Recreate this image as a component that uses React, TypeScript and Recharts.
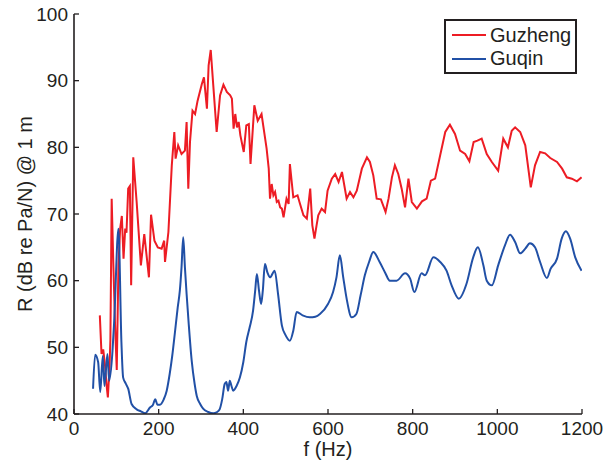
import { LineChart, Line, XAxis, YAxis, Legend, Label } from "recharts"

const guzhengF = [61, 65, 69, 73, 77, 80, 84, 86, 89, 93, 97, 101, 105, 109, 113, 117, 121, 124, 128, 132, 135, 140, 148, 158, 166, 177, 182, 190, 198, 207, 213, 215, 223, 231, 237, 240, 246, 254, 262, 266, 270, 274, 280, 286, 292, 302, 307, 314, 318, 323, 329, 337, 345, 353, 361, 369, 373, 377, 381, 385, 389, 393, 401, 407, 413, 417, 426, 434, 443, 455, 460, 463, 467, 471, 475, 479, 483, 487, 491, 495, 502, 507, 510, 518, 528, 534, 542, 550, 558, 563, 568, 573, 577, 585, 593, 599, 609, 617, 625, 633, 644, 652, 660, 668, 680, 692, 699, 707, 715, 725, 736, 743, 751, 758, 766, 774, 782, 790, 798, 810, 822, 833, 843, 853, 865, 877, 888, 900, 912, 924, 934, 944, 953, 963, 975, 987, 1002, 1014, 1025, 1034, 1042, 1054, 1066, 1079, 1089, 1101, 1113, 1125, 1141, 1153, 1164, 1176, 1188, 1199]
const guzhengR = [54.8, 49, 49.7, 47.5, 44.3, 42.5, 47.2, 51.2, 72.3, 62.3, 53.3, 46.6, 62.3, 67.8, 69.7, 63.3, 67.8, 67.2, 73.8, 74.2, 59.3, 78.5, 71.8, 62.3, 67, 60.5, 69.9, 66, 65, 64.8, 66, 62.8, 67.3, 77.3, 82.3, 78.3, 80.3, 79, 79.5, 83.8, 73.8, 80.8, 85.5, 85, 87, 89.5, 90.5, 85.8, 92.3, 94.6, 89.3, 82.3, 87.8, 89.4, 88.3, 87.8, 87.3, 82.8, 85, 83, 83.8, 81.8, 79.3, 83.3, 83.5, 77.5, 86.3, 84, 85, 79.8, 76.8, 72.3, 74.5, 72.8, 73.3, 71.8, 72, 71, 70.8, 69.5, 72.3, 71.5, 77.5, 72.5, 72.8, 71.5, 69.8, 69.3, 73.8, 68.3, 66.3, 68.3, 69.8, 70.8, 70.3, 73.5, 75.3, 76, 74.8, 76.3, 72.3, 73.3, 72.5, 73.5, 76.8, 78.5, 77.8, 75.8, 72.3, 72.2, 70.3, 72.3, 75.5, 77.3, 76, 73.8, 71, 75.3, 71.8, 70.8, 71.9, 72.3, 75, 75.3, 78.8, 82.3, 83.4, 82, 79.5, 79, 77.9, 80.8, 81, 81.3, 79, 77.8, 76.5, 81.3, 80, 82.5, 83, 82.3, 80.3, 74, 77.3, 79.3, 79.1, 78.4, 77.8, 76.8, 75.5, 75.3, 74.9, 75.5]

const guqinF = [45, 50, 57, 62, 68, 72, 79, 83, 91, 95, 105, 112, 116, 122, 128, 136, 148, 158, 168, 180, 186, 192, 197, 203, 212, 219, 226, 232, 238, 245, 250, 254, 258, 262, 266, 271, 278, 285, 290, 298, 305, 317, 329, 338, 344, 350, 356, 360, 364, 368, 372, 376, 384, 392, 400, 407, 415, 423, 428, 432, 437, 442, 446, 451, 457, 463, 474, 482, 491, 500, 510, 518, 526, 540, 557, 570, 581, 600, 612, 620, 628, 636, 644, 656, 667, 677, 687, 697, 707, 722, 735, 746, 762, 782, 794, 804, 821, 829, 849, 865, 880, 892, 909, 927, 943, 954, 967, 975, 987, 1002, 1018, 1030, 1042, 1054, 1066, 1077, 1089, 1101, 1117, 1126, 1141, 1152, 1162, 1172, 1184, 1199]
const guqinR = [43.8, 48.9, 47.8, 43.3, 48.7, 44.2, 49, 45, 49.5, 54, 67.8, 50.8, 45.5, 44.6, 43.8, 41.5, 40.7, 40.4, 40.1, 41, 41.3, 42.2, 41.4, 41.4, 42.2, 43.5, 46, 48.7, 52, 56, 58.5, 62, 66.5, 62, 58, 53.5, 48, 44.5, 42.7, 41.5, 40.8, 40.3, 40.1, 40.3, 40.7, 42.2, 44.5, 44.8, 43.5, 45, 44.2, 43.5, 44.2, 45.5, 47.8, 50.8, 53, 55.5, 58.5, 61, 58.5, 56.5, 58.5, 62.5, 61.2, 60.5, 61.5, 58, 53.3, 51.8, 51, 52.5, 55.3, 54.8, 54.5, 54.6, 55, 56.5, 58.3, 60.5, 63.8, 60.5, 57.3, 54.5, 55, 57.8, 60.8, 62.8, 64.3, 62.8, 61.2, 60, 60, 61.1, 60.3, 58.3, 61.1, 60.8, 63.5, 62.8, 61.5, 59.3, 57.3, 59.5, 63.5, 65, 62.3, 60, 59.3, 62.3, 65.3, 66.9, 65.8, 64.1, 64.8, 65.6, 65, 62.8, 60.4, 61.8, 63.3, 66.3, 67.4, 66.3, 63.5, 61.5]

const xTicks = [0, 200, 400, 600, 800, 1000, 1200]
const yTicks = [40, 50, 60, 70, 80, 90, 100]

const RED = "#ed1c24"
const BLUE = "#2150a6"
const INK = "#231f20"
const FONT = "'Liberation Sans', Arial, sans-serif"

const guzheng = guzhengF.map((f, i) => ({ f, r: guzhengR[i] }))
const guqin = guqinF.map((f, i) => ({ f, r: guqinR[i] }))

function LegendBox() {
  const items = [{ name: "Guzheng", color: RED }, { name: "Guqin", color: BLUE }]
  return (
    <div style={{ width: 129, height: 51, border: `2px solid ${INK}`, background: "#fff", fontFamily: FONT, fontSize: 20, color: INK, boxSizing: "content-box" }}>
      {items.map((it, i) => (
        <div key={it.name} style={{ position: "absolute", left: 8, top: 4 + i * 23.5, display: "flex", alignItems: "center", height: 24 }}>
          <span style={{ display: "inline-block", width: 34, height: 2, background: it.color, marginRight: 4 }} />
          <span>{it.name}</span>
        </div>
      ))}
    </div>
  )
}

export default function App() {
  return (
    <div style={{ position: "absolute", left: 0, top: 0, width: 606, height: 465, background: "#fff" }}>
      <LineChart width={606} height={465} margin={{ top: 14, right: 24, bottom: 0, left: 0 }}>
        <XAxis type="number" dataKey="f" domain={[0, 1200]} ticks={xTicks} allowDataOverflow height={51}
          axisLine={{ stroke: INK, strokeWidth: 1.6 }} tickLine={{ stroke: INK, strokeWidth: 1.3 }} tickSize={-5} tickMargin={13}
          tick={{ fill: INK, fontSize: 19, fontFamily: FONT }}>
          <Label value="f (Hz)" position="center" dy={9} style={{ fill: INK, fontSize: 20, fontFamily: FONT }} />
        </XAxis>
        <YAxis type="number" domain={[40, 100]} ticks={yTicks} allowDataOverflow width={74}
          axisLine={{ stroke: INK, strokeWidth: 1.6 }} tickLine={{ stroke: INK, strokeWidth: 1.3 }} tickSize={-5} tickMargin={11}
          tick={{ fill: INK, fontSize: 19, fontFamily: FONT }}>
          <Label value="R (dB re Pa/N) @ 1 m" position="center" angle={-90} dx={-12} style={{ fill: INK, fontSize: 20, fontFamily: FONT, textAnchor: "middle" }} />
        </YAxis>
        <Legend layout="horizontal" verticalAlign="middle" align="center"
          wrapperStyle={{ position: "absolute", left: 444, top: 19, width: 133, height: 55 }}
          content={() => <LegendBox />} />
        <Line data={guzheng} dataKey="r" name="Guzheng" type="linear" stroke={RED} strokeWidth={2} dot={false} isAnimationActive={false} />
        <Line data={guqin} dataKey="r" name="Guqin" type="monotone" stroke={BLUE} strokeWidth={2} dot={false} isAnimationActive={false} />
      </LineChart>
    </div>
  )
}
